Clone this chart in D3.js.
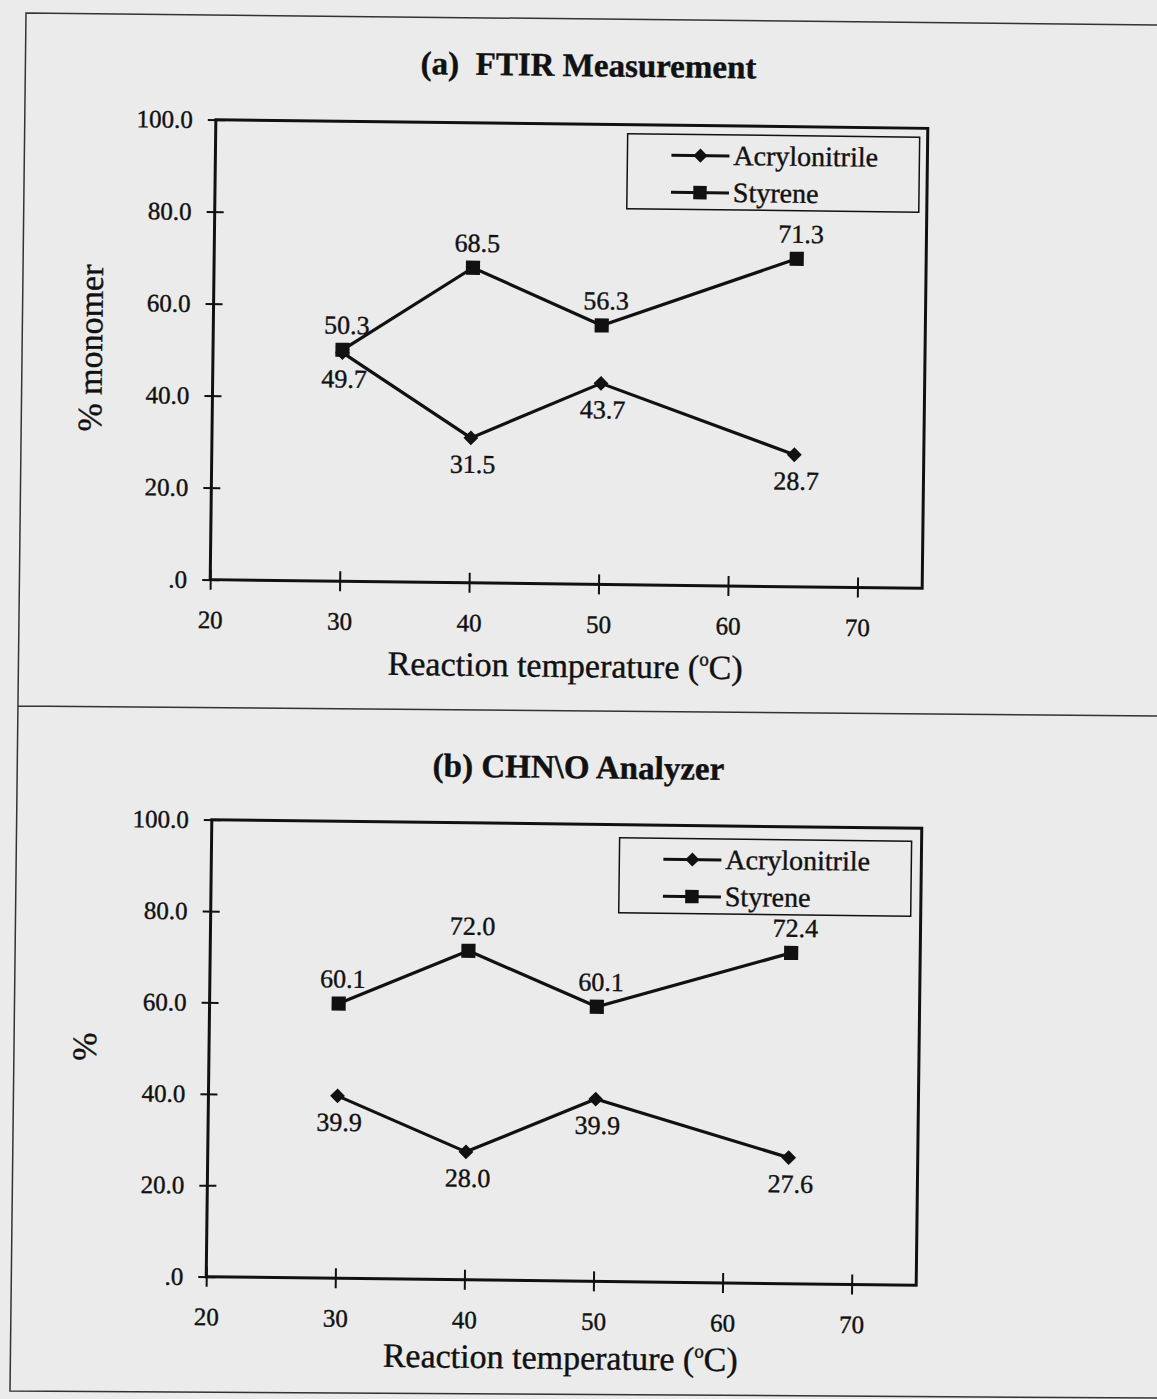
<!DOCTYPE html>
<meta charset="utf-8">
<style>
  body { margin: 0; background: #ebebeb; }
  svg { display: block; font-family: "Liberation Serif", "Times New Roman", serif; }
  text { fill: #111; stroke: #111; stroke-width: 0.4px; }
  .tick text { font-size: 25px; }
  .tick line { stroke: #111; stroke-width: 2; }
</style>
<body>
<script src="https://cdn.jsdelivr.net/npm/d3@7"></script>
<script>
// reaction temperatures (°C)
const temps = [30, 40, 50, 65];

// (a) FTIR measurement
const ftirAcrylonitrile = [49.7, 31.5, 43.7, 28.7];
const ftirStyrene = [50.3, 68.5, 56.3, 71.3];

// (b) CHN\O analyzer
const chnAcrylonitrile = [39.9, 28.0, 39.9, 27.6];
const chnStyrene = [60.1, 72.0, 60.1, 72.4];

const xTicks = [20, 30, 40, 50, 60, 70];
const yTicks = [0, 20, 40, 60, 80, 100];
const seriesNames = ['Acrylonitrile', 'Styrene'];

const W = 1157, H = 1399;
const ink = '#111';
const skew = 0.7; // the page was scanned slightly rotated

const svg = d3.select('body').append('svg').attr('width', W).attr('height', H);

// scanned page frame
svg.append('path')
  .attr('d', 'M1157,25 L26,13 L10,1391 L1157,1398 M18,706 L1157,716')
  .attr('fill', 'none').attr('stroke', '#333').attr('stroke-width', 1.5);

const panels = [
  {title: '(a)\u2002FTIR Measurement', ytitle: '% monomer', acry: ftirAcrylonitrile, sty: ftirStyrene,
   box: {left: 213, top: 124, right: 925, bottom: 584}, titleX: 585, titleY: 76,
   ytitleX: 102, xtitleY: 677, legend: [-300, 9]},
  {title: '(b) CHN\\O Analyzer', ytitle: '%', acry: chnAcrylonitrile, sty: chnStyrene,
   box: {left: 209, top: 824, right: 919, bottom: 1281}, titleX: 575, titleY: 778,
   ytitleX: 96, xtitleY: 1369, legend: [-302, 13]}
];

const diamond = d3.symbol().type(d3.symbolSquare).size(110);
const square = d3.symbol().type(d3.symbolSquare).size(200);

panels.forEach(p => {
  const b = p.box;
  const cx = (b.left + b.right) / 2, cy = (b.top + b.bottom) / 2;
  const x = d3.scaleLinear().domain([20, 75]).range([b.left, b.right]);
  const y = d3.scaleLinear().domain([0, 100]).range([b.bottom, b.top]);
  const g = svg.append('g').attr('transform', `rotate(${skew},${cx},${cy})`);

  g.append('text')
    .attr('x', p.titleX).attr('y', p.titleY)
    .attr('text-anchor', 'middle')
    .style('font-size', '33px').style('font-weight', 'bold')
    .text(p.title);

  // plot frame
  g.append('rect')
    .attr('x', b.left).attr('y', b.top)
    .attr('width', b.right - b.left).attr('height', b.bottom - b.top)
    .attr('fill', 'none').attr('stroke', ink).attr('stroke-width', 3);

  const yAxis = g.append('g')
    .attr('transform', `translate(${b.left},0)`)
    .call(d3.axisLeft(y).tickValues(yTicks).tickSize(8).tickPadding(15)
      .tickFormat(d => d === 0 ? '.0' : d.toFixed(1)))
    .attr('font-family', null).attr('font-size', null);
  yAxis.select('.domain').remove();
  yAxis.selectAll('.tick line').attr('x1', 9);

  const xAxis = g.append('g')
    .attr('transform', `translate(0,${b.bottom})`)
    .call(d3.axisBottom(x).tickValues(xTicks).tickSize(10).tickPadding(16))
    .attr('font-family', null).attr('font-size', null);
  xAxis.select('.domain').remove();
  xAxis.selectAll('.tick line').attr('y1', -10);
  xAxis.selectAll('.tick text').attr('dy', '0.9em');

  // axis titles
  const xt = g.append('text')
    .attr('x', cx).attr('y', p.xtitleY)
    .attr('text-anchor', 'middle').style('font-size', '34px');
  xt.append('tspan').text('Reaction temperature (');
  xt.append('tspan').attr('dy', -13).style('font-size', '19px').text('o');
  xt.append('tspan').attr('dy', 13).text('C)');

  g.append('text')
    .attr('transform', `translate(${p.ytitleX},${cy}) rotate(-90)`)
    .attr('text-anchor', 'middle').style('font-size', '34px')
    .text(p.ytitle);

  const line = d3.line().x((d, i) => x(temps[i])).y(d => y(d));
  [p.acry, p.sty].forEach(vals => {
    g.append('path').attr('d', line(vals))
      .attr('fill', 'none').attr('stroke', ink).attr('stroke-width', 3.2);
  });

  g.selectAll('.acry').data(p.acry).join('path')
    .attr('transform', (d, i) => `translate(${x(temps[i])},${y(d)}) rotate(45)`)
    .attr('d', diamond).attr('fill', ink);
  g.selectAll('.sty').data(p.sty).join('path')
    .attr('transform', (d, i) => `translate(${x(temps[i])},${y(d)})`)
    .attr('d', square).attr('fill', ink);

  // value labels: styrene above, acrylonitrile below
  g.selectAll('.lab-s').data(p.sty).join('text')
    .attr('x', (d, i) => x(temps[i]) + 4).attr('y', d => y(d) - 16)
    .attr('text-anchor', 'middle').style('font-size', '26px')
    .text(d => d.toFixed(1));
  g.selectAll('.lab-a').data(p.acry).join('text')
    .attr('x', (d, i) => x(temps[i]) + 2).attr('y', d => y(d) + 35)
    .attr('text-anchor', 'middle').style('font-size', '26px')
    .text(d => d.toFixed(1));

  // legend
  const lg = g.append('g').attr('transform', `translate(${b.right + p.legend[0]},${b.top + p.legend[1]})`);
  lg.append('rect').attr('width', 292).attr('height', 75)
    .attr('fill', 'none').attr('stroke', ink).attr('stroke-width', 1.5);
  seriesNames.forEach((name, i) => {
    const ly = 21 + i * 37;
    lg.append('line').attr('x1', 44).attr('x2', 102).attr('y1', ly).attr('y2', ly)
      .attr('stroke', ink).attr('stroke-width', 3);
    lg.append('path').attr('transform', `translate(73,${ly})` + (i === 0 ? ' rotate(45)' : ''))
      .attr('d', i === 0 ? d3.symbol().type(d3.symbolSquare).size(100) : d3.symbol().type(d3.symbolSquare).size(180))
      .attr('fill', ink);
    lg.append('text').attr('x', 106).attr('y', ly + 9)
      .style('font-size', '28px').text(name);
  });
});
</script>
</body>
